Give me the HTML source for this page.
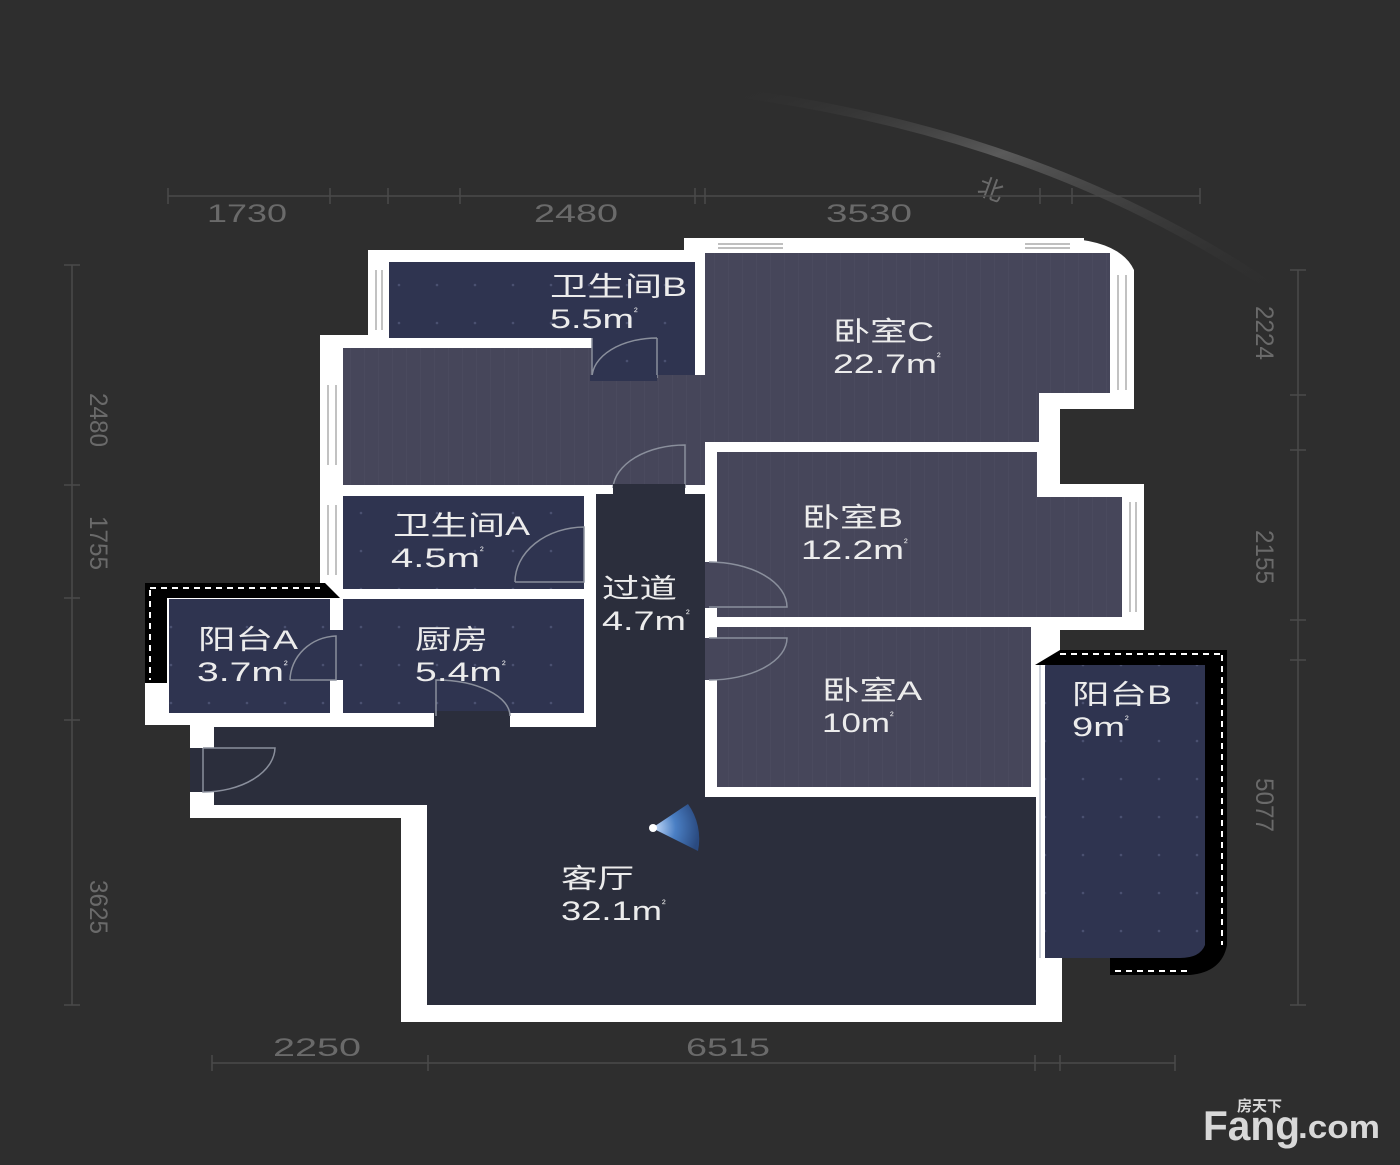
<!DOCTYPE html>
<html><head><meta charset="utf-8"><style>
html,body{margin:0;padding:0;background:#2e2e2e;}
svg{display:block}
text{font-family:"Liberation Sans","Noto Sans CJK SC",sans-serif;}
.lbl{fill:#ececec;font-size:27px;}
.sup{fill:#ececec;font-size:11px;}
.dim{fill:#6a6a6a;font-size:25px;}
.door{fill:none;stroke:#8a8f9c;stroke-width:1.5}
.win{stroke:#999;stroke-width:1.2}
</style></head><body>
<svg width="1400" height="1165" viewBox="0 0 1400 1165" xmlns="http://www.w3.org/2000/svg">
<defs>
<linearGradient id="arcg" x1="0" y1="0" x2="1" y2="1">
<stop offset="0" stop-color="#2e2e2e" stop-opacity="0"/>
<stop offset="0.4" stop-color="#5a5a5a"/>
<stop offset="1" stop-color="#2e2e2e" stop-opacity="0"/>
</linearGradient>
<radialGradient id="fan" cx="0" cy="0.5" r="1">
<stop offset="0" stop-color="#cfe3ff"/>
<stop offset="0.5" stop-color="#4a7fc4"/>
<stop offset="1" stop-color="#2a4a80"/>
</radialGradient>
<pattern id="stripe" width="14" height="10" patternUnits="userSpaceOnUse">
<rect width="14" height="10" fill="#46465a"/>
<line x1="0" y1="0" x2="0" y2="10" stroke="#4e4e62" stroke-width="1"/>
</pattern>
<pattern id="tile" width="38" height="38" patternUnits="userSpaceOnUse">
<rect width="38" height="38" fill="#2f3450"/>
<circle cx="19" cy="19" r="1.3" fill="#4a5070"/>
</pattern>
</defs>
<rect width="1400" height="1165" fill="#2e2e2e"/>
<path d="M714 90 Q1050 130 1290 300" fill="none" stroke="url(#arcg)" stroke-width="9"/>
<text x="978" y="198" class="dim" font-size="22" transform="rotate(20 990 190)">北</text>
<g stroke="#4a4a4a" stroke-width="1.5">
<line x1="168" y1="196" x2="1200" y2="196"/>
<line x1="168" y1="188" x2="168" y2="204"/><line x1="330" y1="188" x2="330" y2="204"/><line x1="388" y1="188" x2="388" y2="204"/><line x1="460" y1="188" x2="460" y2="204"/><line x1="695" y1="188" x2="695" y2="204"/><line x1="705" y1="188" x2="705" y2="204"/><line x1="1040" y1="188" x2="1040" y2="204"/><line x1="1072" y1="188" x2="1072" y2="204"/><line x1="1200" y1="188" x2="1200" y2="204"/>
<line x1="72" y1="265" x2="72" y2="1005"/>
<line x1="64" y1="265" x2="80" y2="265"/><line x1="64" y1="485" x2="80" y2="485"/><line x1="64" y1="598" x2="80" y2="598"/><line x1="64" y1="720" x2="80" y2="720"/><line x1="64" y1="1005" x2="80" y2="1005"/>
<line x1="1298" y1="270" x2="1298" y2="1005"/>
<line x1="1290" y1="270" x2="1306" y2="270"/><line x1="1290" y1="395" x2="1306" y2="395"/><line x1="1290" y1="450" x2="1306" y2="450"/><line x1="1290" y1="620" x2="1306" y2="620"/><line x1="1290" y1="660" x2="1306" y2="660"/><line x1="1290" y1="1005" x2="1306" y2="1005"/>
<line x1="212" y1="1063" x2="1175" y2="1063"/>
<line x1="212" y1="1055" x2="212" y2="1071"/><line x1="428" y1="1055" x2="428" y2="1071"/><line x1="1035" y1="1055" x2="1035" y2="1071"/><line x1="1060" y1="1055" x2="1060" y2="1071"/><line x1="1175" y1="1055" x2="1175" y2="1071"/>
</g>
<g class="dim">
<text x="207" y="222" textLength="80" lengthAdjust="spacingAndGlyphs">1730</text>
<text x="534" y="222" textLength="84" lengthAdjust="spacingAndGlyphs">2480</text>
<text x="826" y="222" textLength="86" lengthAdjust="spacingAndGlyphs">3530</text>
<text x="273" y="1056" textLength="88" lengthAdjust="spacingAndGlyphs">2250</text>
<text x="686" y="1056" textLength="84" lengthAdjust="spacingAndGlyphs">6515</text>
<text transform="translate(90 393) rotate(90)" textLength="54" lengthAdjust="spacingAndGlyphs">2480</text>
<text transform="translate(90 516) rotate(90)" textLength="54" lengthAdjust="spacingAndGlyphs">1755</text>
<text transform="translate(90 880) rotate(90)" textLength="54" lengthAdjust="spacingAndGlyphs">3625</text>
<text transform="translate(1256 306) rotate(90)" textLength="54" lengthAdjust="spacingAndGlyphs">2224</text>
<text transform="translate(1256 530) rotate(90)" textLength="54" lengthAdjust="spacingAndGlyphs">2155</text>
<text transform="translate(1256 778) rotate(90)" textLength="54" lengthAdjust="spacingAndGlyphs">5077</text>
</g>

<g fill="#ffffff">
<rect x="368" y="250" width="350" height="150"/>
<rect x="684" y="238" width="400" height="162"/>
<path d="M1060 238 Q1120 240 1134 270 L1134 408 L1060 408 Z"/>
<rect x="320" y="335" width="400" height="170"/>
<rect x="1038" y="395" width="22" height="110"/>
<rect x="1038" y="395" width="96" height="14"/>
<rect x="700" y="440" width="360" height="190"/>
<rect x="1038" y="484" width="106" height="146"/>
<rect x="320" y="485" width="290" height="240"/>
<rect x="145" y="583" width="200" height="142"/>
<rect x="700" y="610" width="355" height="200"/>
<path d="M190 713 L720 713 L720 780 L1062 780 L1062 1022 L401 1022 L401 818 L190 818 Z"/>
<rect x="1030" y="620" width="30" height="50"/>
</g>
<g>
<path d="M710 253 H1110 V393 H1039 V442 H705 V485 H343 V348 H592 V375 H705 V253 Z" fill="url(#stripe)"/>
<path d="M389 262 H695 V375 H592 V338 H389 Z" fill="url(#tile)"/>
<path d="M717 452 H1037 V497 H1122 V617 H717 Z" fill="url(#stripe)"/>
<rect x="717" y="627" width="314" height="160" fill="url(#stripe)"/>
<rect x="343" y="496" width="241" height="93" fill="url(#tile)"/>
<rect x="343" y="599" width="241" height="114" fill="url(#tile)"/>
<rect x="169" y="599" width="161" height="114" fill="url(#tile)"/>
<path d="M596 494 H705 V797 H1036 V1005 H427 V805 H214 V727 H596 Z" fill="#2b2e3c"/>
<rect x="1045" y="665" width="160" height="293" fill="url(#tile)"/>
</g>
<g>
<rect x="145" y="583" width="22" height="100" fill="#000"/>
<path d="M145 583 H325 L340 598 H167 Z" fill="#000"/>
<line x1="150" y1="590" x2="150" y2="680" stroke="#fff" stroke-width="2" stroke-dasharray="6 5"/>
<line x1="150" y1="588" x2="320" y2="588" stroke="#fff" stroke-width="2" stroke-dasharray="6 5"/>
<rect x="1205" y="650" width="22" height="295" fill="#000"/>
<path d="M1035 665 L1060 650 H1227 L1205 665 Z" fill="#000"/>
<path d="M1110 958 H1180 Q1200 958 1205 945 H1227 Q1222 972 1190 975 H1110 Z" fill="#000"/>
<line x1="1222" y1="655" x2="1222" y2="945" stroke="#fff" stroke-width="2" stroke-dasharray="6 5"/>
<line x1="1060" y1="654" x2="1222" y2="654" stroke="#fff" stroke-width="2" stroke-dasharray="6 5"/>
<line x1="1115" y1="971" x2="1190" y2="971" stroke="#fff" stroke-width="2" stroke-dasharray="6 5"/>
<line x1="1040" y1="665" x2="1040" y2="958" stroke="#cfd3dc" stroke-width="2"/>
</g>
<g class="win">
<line x1="328" y1="385" x2="328" y2="465"/><line x1="336" y1="385" x2="336" y2="465"/>
<line x1="328" y1="505" x2="328" y2="575"/><line x1="336" y1="505" x2="336" y2="575"/>
<line x1="376" y1="270" x2="376" y2="330"/><line x1="382" y1="270" x2="382" y2="330"/>
<line x1="718" y1="244" x2="783" y2="244"/><line x1="718" y1="248" x2="783" y2="248"/>
<line x1="1025" y1="244" x2="1070" y2="244"/><line x1="1025" y1="248" x2="1070" y2="248"/>
<line x1="1118" y1="275" x2="1118" y2="390"/><line x1="1126" y1="275" x2="1126" y2="390"/>
<line x1="1130" y1="502" x2="1130" y2="612"/><line x1="1136" y1="502" x2="1136" y2="612"/>
</g>
<g class="door">
<path d="M592 378 V338 M657 338 V378 M592 378 A65 40 0 0 1 657 338"/>
<rect x="590" y="375" width="67" height="6" fill="#2f3450" stroke="none"/>
<path d="M613 488 A72 45 0 0 1 685 445 V488"/>
<rect x="613" y="484" width="72" height="12" fill="#2b2e3c" stroke="none"/>
<path d="M515 582 A70 55 0 0 1 584 527 V582 H515"/>
<rect x="705" y="562" width="12" height="46" fill="#46465a" stroke="none"/>
<path d="M709 562 A78 45 0 0 1 787 607 H709"/>
<rect x="705" y="638" width="12" height="42" fill="#46465a" stroke="none"/>
<path d="M709 638 H787 A78 42 0 0 1 709 680"/>
<rect x="434" y="711" width="76" height="16" fill="#2b2e3c" stroke="none"/>
<path d="M436 716 V680 A74 36 0 0 1 510 716"/>
<rect x="330" y="630" width="13" height="50" fill="#2f3450" stroke="none"/>
<path d="M290 680 A48 45 0 0 1 336 636 V680 H290"/>
<rect x="190" y="748" width="24" height="44" fill="#2b2e3c" stroke="none"/>
<path d="M203 748 V792 A72 45 0 0 0 275 748 H203"/>
</g>
<path d="M652 828 L688 804 A60 60 0 0 1 698 851 Z" fill="url(#fan)"/>
<circle cx="653" cy="828" r="4" fill="#fff"/>
<g class="lbl">
<text x="550" y="296" textLength="137" lengthAdjust="spacingAndGlyphs">卫生间B</text>
<text x="550" y="328" textLength="84" lengthAdjust="spacingAndGlyphs">5.5m</text>
<text x="833" y="341" textLength="101" lengthAdjust="spacingAndGlyphs">卧室C</text>
<text x="833" y="373" textLength="104" lengthAdjust="spacingAndGlyphs">22.7m</text>
<text x="393" y="535" textLength="137" lengthAdjust="spacingAndGlyphs">卫生间A</text>
<text x="391" y="567" textLength="89" lengthAdjust="spacingAndGlyphs">4.5m</text>
<text x="802" y="527" textLength="101" lengthAdjust="spacingAndGlyphs">卧室B</text>
<text x="801" y="559" textLength="103" lengthAdjust="spacingAndGlyphs">12.2m</text>
<text x="602" y="598" textLength="75" lengthAdjust="spacingAndGlyphs">过道</text>
<text x="602" y="630" textLength="84" lengthAdjust="spacingAndGlyphs">4.7m</text>
<text x="198" y="649" textLength="100" lengthAdjust="spacingAndGlyphs">阳台A</text>
<text x="197" y="681" textLength="87" lengthAdjust="spacingAndGlyphs">3.7m</text>
<text x="415" y="649" textLength="73" lengthAdjust="spacingAndGlyphs">厨房</text>
<text x="415" y="681" textLength="87" lengthAdjust="spacingAndGlyphs">5.4m</text>
<text x="822" y="700" textLength="100" lengthAdjust="spacingAndGlyphs">卧室A</text>
<text x="822" y="732" textLength="68" lengthAdjust="spacingAndGlyphs">10m</text>
<text x="1072" y="704" textLength="100" lengthAdjust="spacingAndGlyphs">阳台B</text>
<text x="1072" y="736" textLength="53" lengthAdjust="spacingAndGlyphs">9m</text>
<text x="561" y="888" textLength="73" lengthAdjust="spacingAndGlyphs">客厅</text>
<text x="561" y="920" textLength="101" lengthAdjust="spacingAndGlyphs">32.1m</text>
</g>
<g class="sup">
<text x="634" y="315">²</text><text x="937" y="360">²</text><text x="480" y="554">²</text>
<text x="904" y="546">²</text><text x="686" y="617">²</text><text x="284" y="668">²</text>
<text x="502" y="668">²</text><text x="890" y="719">²</text><text x="1125" y="723">²</text>
<text x="662" y="907">²</text>
</g>
<text x="1237" y="1111" fill="#d8d8d8" font-size="15" font-weight="bold">房天下</text>
<text x="1203" y="1140" fill="#d8d8d8" font-size="42" font-weight="bold" textLength="97" lengthAdjust="spacingAndGlyphs">Fang</text>
<text x="1298" y="1138" fill="#d8d8d8" font-size="32" font-weight="bold" textLength="82" lengthAdjust="spacingAndGlyphs">.com</text>
</svg>
</body></html>
